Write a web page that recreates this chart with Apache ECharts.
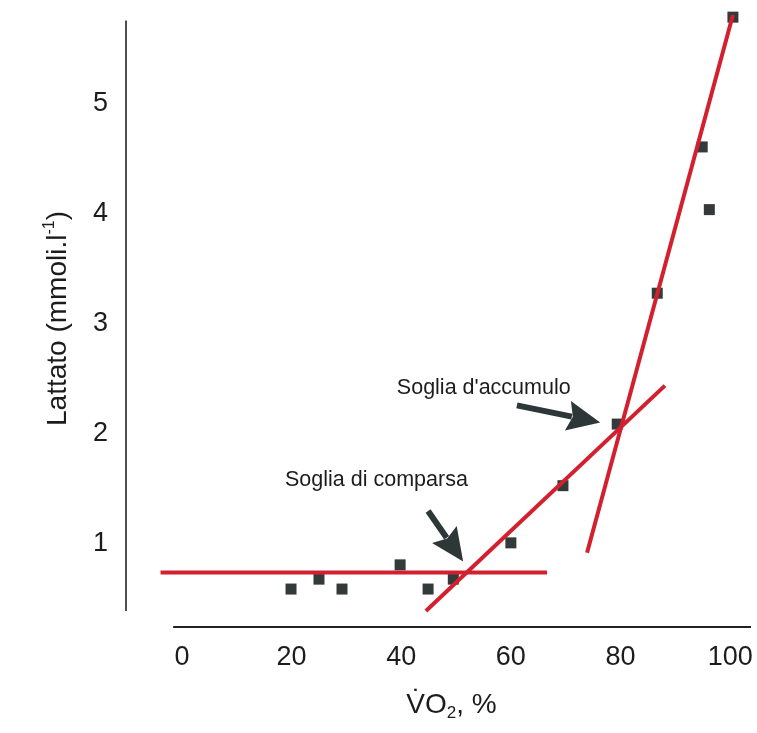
<!DOCTYPE html>
<html lang="it">
  <head>
    <meta charset="utf-8" />
    <title>Lattato</title>
    <script src="https://cdn.jsdelivr.net/npm/echarts@6/dist/echarts.min.js"></script>
    <style>
      html, body { margin: 0; padding: 0; background: #fff; overflow: hidden; }
      #main { width: 757px; height: 733px; }
    </style>
  </head>
  <body>
    <div id="main"></div>
    <script>
      // punti misurati (VO2 %, lattato mmol/l)
      var vo2 = [19.9, 25, 29.2, 39.8, 44.9, 49.5, 60, 69.5, 79.4, 86.7, 94.9, 96.2, 100.5];
      var lattato = [0.59, 0.68, 0.59, 0.81, 0.59, 0.68, 1.01, 1.53, 2.09, 3.28, 4.61, 4.04, 5.79];

      // rette di regressione (estremi)
      var line0X = [-3.9, 66.6], line0Y = [0.74, 0.74];
      var line1X = [44.5, 88.1], line1Y = [0.39, 2.44];
      var line2X = [73.9, 100.5], line2Y = [0.92, 5.81];

      // frecce [da x, da y, a x, a y] e note
      var arrows = [[44.9, 1.30, 51.3, 0.84], [61.1, 2.26, 76.3, 2.105]];
      var notes = ["Soglia di comparsa", "Soglia d'accumulo"];
      var notePos = [[18.8, 1.58], [39.2, 2.42]];

      var xTicks = [0, 20, 40, 60, 80, 100];
      var yTicks = [1, 2, 3, 4, 5];

      // estensione del riquadro
      var XMIN = -10.2, XMAX = 103.8;
      var YMIN = 0.245, YMAX = 5.855;

      var FONT = "Liberation Sans";
      var RED = "#d3202f";
      var INK = "#1c1c1c";
      var DARK = "#2e3737";

      function pairs(xs, ys) {
        return xs.map(function (x, i) { return [x, ys[i]]; });
      }

      function redLine(xs, ys) {
        return {
          type: "line",
          data: pairs(xs, ys),
          symbol: "none",
          clip: false,
          z: 3,
          lineStyle: { color: RED, width: 4 },
          silent: true
        };
      }

      var chart = echarts.init(document.getElementById("main"));

      var option = {
        backgroundColor: "#fff",
        animation: false,
        grid: { left: 126, right: 6, top: 10, bottom: 106, outerBoundsMode: "none" },
        xAxis: {
          type: "value",
          min: XMIN,
          max: XMAX,
          axisLine: { show: false },
          axisTick: { show: false },
          splitLine: { show: false },
          axisLabel: {
            customValues: xTicks,
            fontSize: 27,
            fontFamily: FONT,
            color: INK,
            margin: 17
          },
          name: "V\u0307O{sub|2}, %",
          nameLocation: "middle",
          nameGap: 61,
          nameTextStyle: {
            fontSize: 28,
            fontFamily: FONT,
            color: INK,
            lineHeight: 34,
            padding: [0, 0, 0, 26],
            rich: {
              sub: { fontSize: 17, lineHeight: 17, verticalAlign: "bottom", fontFamily: FONT, color: INK }
            }
          }
        },
        yAxis: {
          type: "value",
          min: YMIN,
          max: YMAX,
          axisLine: { show: false },
          axisTick: { show: false },
          splitLine: { show: false },
          axisLabel: {
            customValues: yTicks,
            fontSize: 27,
            fontFamily: FONT,
            color: INK,
            margin: 18
          },
          name: "Lattato (mmoli.l{sup|-1})",
          nameLocation: "middle",
          nameGap: 52,
          nameTextStyle: {
            fontSize: 28,
            fontFamily: FONT,
            color: INK,
            lineHeight: 32,
            rich: {
              sup: { fontSize: 16, lineHeight: 16, verticalAlign: "top", fontFamily: FONT, color: INK }
            }
          }
        },
        series: [
          // assi disegnati come segmenti
          {
            type: "line",
            data: [[-1.6, YMIN], [XMAX, YMIN]],
            symbol: "none",
            clip: false,
            silent: true,
            lineStyle: { color: "#222", width: 2 }
          },
          {
            type: "line",
            data: [[XMIN, 0.39], [XMIN, 5.76]],
            symbol: "none",
            clip: false,
            silent: true,
            lineStyle: { color: "#222", width: 1.6 }
          },
          {
            type: "scatter",
            data: pairs(vo2, lattato),
            symbol: "rect",
            symbolSize: 11,
            clip: false,
            z: 2,
            itemStyle: { color: "#343a3a", opacity: 1 }
          },
          redLine(line0X, line0Y),
          redLine(line1X, line1Y),
          redLine(line2X, line2Y),
          {
            type: "custom",
            coordinateSystem: "cartesian2d",
            data: arrows,
            encode: { x: [0, 2], y: [1, 3] },
            z: 4,
            silent: true,
            renderItem: function (params, api) {
              var p0 = api.coord([api.value(0), api.value(1)]);
              var p1 = api.coord([api.value(2), api.value(3)]);
              var dx = p1[0] - p0[0], dy = p1[1] - p0[1];
              var len = Math.sqrt(dx * dx + dy * dy);
              var ux = dx / len, uy = dy / len;
              var headLen = 33, headHalf = 15;
              var bx = p1[0] - ux * headLen, by = p1[1] - uy * headLen;
              return {
                type: "group",
                children: [
                  {
                    type: "line",
                    shape: { x1: p0[0], y1: p0[1], x2: bx + ux * 4, y2: by + uy * 4 },
                    style: { stroke: DARK, lineWidth: 6 }
                  },
                  {
                    type: "polygon",
                    shape: {
                      points: [
                        [p1[0], p1[1]],
                        [bx - uy * headHalf, by + ux * headHalf],
                        [bx + ux * 5, by + uy * 5],
                        [bx + uy * headHalf, by - ux * headHalf]
                      ]
                    },
                    style: { fill: DARK }
                  }
                ]
              };
            }
          },
          {
            type: "custom",
            coordinateSystem: "cartesian2d",
            data: notePos.map(function (p, i) { return [p[0], p[1], i]; }),
            z: 4,
            silent: true,
            renderItem: function (params, api) {
              var p = api.coord([api.value(0), api.value(1)]);
              return {
                type: "text",
                x: p[0],
                y: p[1],
                style: {
                  text: notes[api.value(2)],
                  font: "21.5px " + FONT,
                  fill: INK,
                  align: "left",
                  verticalAlign: "middle"
                }
              };
            }
          }
        ]
      };

      chart.setOption(option);
    </script>
  </body>
</html>
